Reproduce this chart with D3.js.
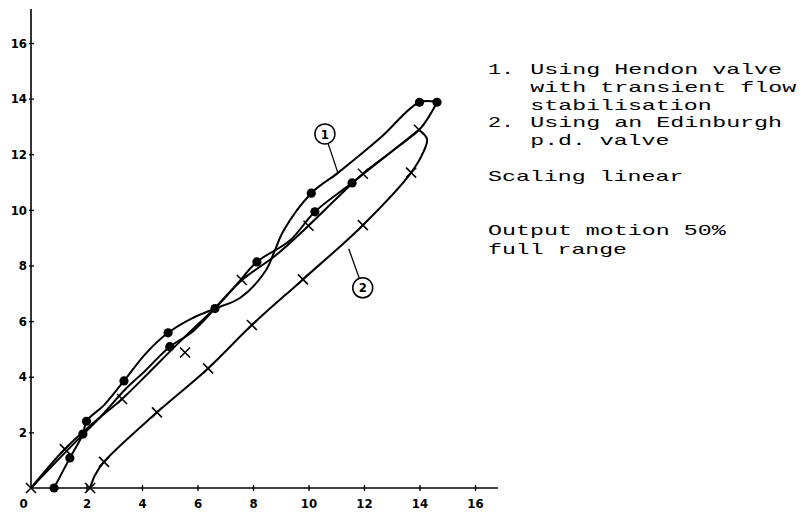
<!DOCTYPE html>
<html>
<head>
<meta charset="utf-8">
<script src="https://cdn.jsdelivr.net/npm/d3@7"></script>
<style>
  html, body { margin: 0; padding: 0; background: #fff; }
  svg { display: block; }
</style>
</head>
<body>
<svg id="chart" width="806" height="513"></svg>
<script>
// ---- data ----
const xTickValues = [0, 2, 4, 6, 8, 10, 12, 14, 16];
const yTickValues = [2, 4, 6, 8, 10, 12, 14, 16];

// Curve 1 (Hendon valve, dots): rising and falling branches
const curve1Up = [[0.83,0],[1.4,1.08],[1.87,1.94],[2.0,2.4],[2.65,3.0],[3.35,3.85],[4.15,4.85],[4.94,5.58],[5.8,6.1],[6.63,6.45],[7.53,6.83],[8.45,7.8],[8.75,8.45],[9.1,9.25],[10.1,10.6],[11.06,11.33],[12.6,12.6],[14.0,13.87],[14.63,13.87]];
const curve1Down = [[14.63,13.87],[14.05,12.95],[13.0,12.1],[11.57,10.97],[10.23,9.93],[9.33,8.9],[8.14,8.13],[7.4,7.3],[6.63,6.45],[5.8,5.6],[5.0,5.08],[4.1,4.2],[3.4,3.55],[2.5,2.55],[1.5,1.55],[0,0]];
const curve1Dots = [[0.83,0],[1.4,1.08],[1.87,1.94],[2.0,2.4],[3.35,3.85],[4.94,5.58],[5.0,5.08],[6.63,6.45],[8.14,8.13],[10.1,10.6],[10.23,9.93],[11.57,10.97],[14.0,13.87],[14.63,13.87]];

// Curve 2 (Edinburgh p.d. valve, crosses)
const curve2Up = [[2.13,0],[2.3,0.45],[2.63,0.94],[4.54,2.72],[6.38,4.3],[7.96,5.86],[9.8,7.5],[11.96,9.45],[13.7,11.34],[14.15,12.1],[14.27,12.55],[13.98,12.88]];
const curve2Down = [[13.98,12.88],[13.0,12.1],[11.96,11.3],[11.0,10.4],[10.0,9.43],[8.8,8.35],[7.6,7.48],[6.6,6.45],[5.3,5.2],[4.2,4.1],[3.28,3.2],[2.2,2.3],[1.22,1.4],[0,0]];
const curve2Crosses = [[0,0],[1.22,1.4],[3.28,3.2],[5.55,4.87],[7.6,7.48],[10.0,9.43],[11.96,11.3],[13.98,12.88],[13.7,11.34],[11.96,9.45],[9.8,7.5],[7.96,5.86],[6.38,4.3],[4.54,2.72],[2.63,0.94],[2.13,0]];

// circled curve labels: [label, x, y of curve point it points at]
const curveLabels = [["1", 11.06, 11.33], ["2", 11.45, 8.6]];

const legendLines = [
  ["1. ", "Using Hendon valve"],
  ["", "with transient flow"],
  ["", "stabilisation"],
  ["2. ", "Using an Edinburgh"],
  ["", "p.d. valve"]
];
const noteLines = ["Scaling linear", "Output motion 50%", "full range"];

// ---- drawing ----
const svg = d3.select("#chart");
const x = d3.scaleLinear().domain([0, 16]).range([31, 475]);
const y = d3.scaleLinear().domain([0, 16]).range([488, 43]);

const tickFont = "'DejaVu Sans Condensed', 'DejaVu Sans', sans-serif";

// x axis
const xAxis = svg.append("g").attr("transform", `translate(0,${y(0)})`)
  .call(d3.axisBottom(x).tickValues(xTickValues).tickSizeOuter(0).tickFormat(d3.format("d")));
xAxis.select(".domain").remove();
xAxis.append("line").attr("x1", x(0)).attr("x2", 498).attr("y1", 0).attr("y2", 0)
  .attr("stroke", "#000").attr("stroke-width", 1.6);
xAxis.selectAll(".tick line").attr("y1", -3).attr("y2", 3).attr("stroke-width", 1.3)
  .filter(d => d === 0).remove();
xAxis.selectAll(".tick text")
  .attr("y", 11).attr("dy", "0.71em")
  .attr("dx", d => d === 0 ? -8 : 0)
  .style("font-family", tickFont).style("font-weight", "bold").style("font-size", "13px").attr("fill", "#000");

// y axis
const yAxis = svg.append("g").attr("transform", `translate(${x(0)},0)`)
  .call(d3.axisLeft(y).tickValues(yTickValues).tickSizeOuter(0).tickFormat(d3.format("d")));
yAxis.select(".domain").remove();
yAxis.append("line").attr("x1", 0).attr("x2", 0).attr("y1", y(0)).attr("y2", 9)
  .attr("stroke", "#000").attr("stroke-width", 1.6);
yAxis.selectAll(".tick line").attr("x1", -2).attr("x2", 3).attr("stroke-width", 1.3);
yAxis.selectAll(".tick text").attr("x", -4)
  .style("font-family", tickFont).style("font-weight", "bold").style("font-size", "13px").attr("fill", "#000");

// curves
const line = d3.line().x(d => x(d[0])).y(d => y(d[1])).curve(d3.curveCatmullRom.alpha(0.5));
const g = svg.append("g").attr("fill", "none").attr("stroke", "#000").attr("stroke-width", 2)
  .attr("stroke-linejoin", "round").attr("stroke-linecap", "round");
[curve1Up, curve1Down, curve2Up, curve2Down].forEach(c => g.append("path").attr("d", line(c)));

// dot markers
svg.append("g").selectAll("circle").data(curve1Dots).join("circle")
  .attr("cx", d => x(d[0])).attr("cy", d => y(d[1])).attr("r", 4.6).attr("fill", "#000");

// cross markers
const cs = 5;
svg.append("g").attr("stroke", "#000").attr("stroke-width", 1.6).selectAll("path").data(curve2Crosses).join("path")
  .attr("d", d => {
    const px = x(d[0]), py = y(d[1]);
    return `M${px-cs},${py-cs}L${px+cs},${py+cs}M${px-cs},${py+cs}L${px+cs},${py-cs}`;
  });

// circled labels with leader lines
const labelOffsets = { "1": [-13, -39], "2": [14, 39] };
curveLabels.forEach(([t, cx, cy]) => {
  const px = x(cx), py = y(cy);
  const [ox, oy] = labelOffsets[t];
  const lx = px + ox, ly = py + oy;
  const ang = Math.atan2(py - ly, px - lx);
  svg.append("line").attr("x1", lx + 10 * Math.cos(ang)).attr("y1", ly + 10 * Math.sin(ang))
    .attr("x2", px).attr("y2", py).attr("stroke", "#000").attr("stroke-width", 1.3);
  svg.append("circle").attr("cx", lx).attr("cy", ly).attr("r", 10)
    .attr("fill", "#fff").attr("stroke", "#000").attr("stroke-width", 1.5);
  svg.append("text").attr("x", lx).attr("y", ly).attr("dy", "0.36em").attr("text-anchor", "middle")
    .style("font-family", tickFont).style("font-weight", "bold").style("font-size", "13px").text(t);
});

// legend text (typewriter style: monospace stretched to ~14px per character)
const mono = "'Liberation Mono', 'DejaVu Sans Mono', monospace";
const cw = 14.1, x0 = 488;
const legend = svg.append("g").style("font-family", mono).style("font-size", "15px").attr("fill", "#000");
function typed(txt, xx, yy) {
  legend.append("text").attr("x", xx).attr("y", yy)
    .attr("textLength", txt.length * cw - 2).attr("lengthAdjust", "spacingAndGlyphs").text(txt);
}
legendLines.forEach(([num, t], i) => {
  const yy = 74 + i * 17.8;
  if (num) typed(num.trim(), x0, yy);
  typed(t, x0 + 3 * cw, yy);
});
const noteY = [181, 235, 254];
noteLines.forEach((t, i) => typed(t, x0, noteY[i]));
</script>
</body>
</html>
